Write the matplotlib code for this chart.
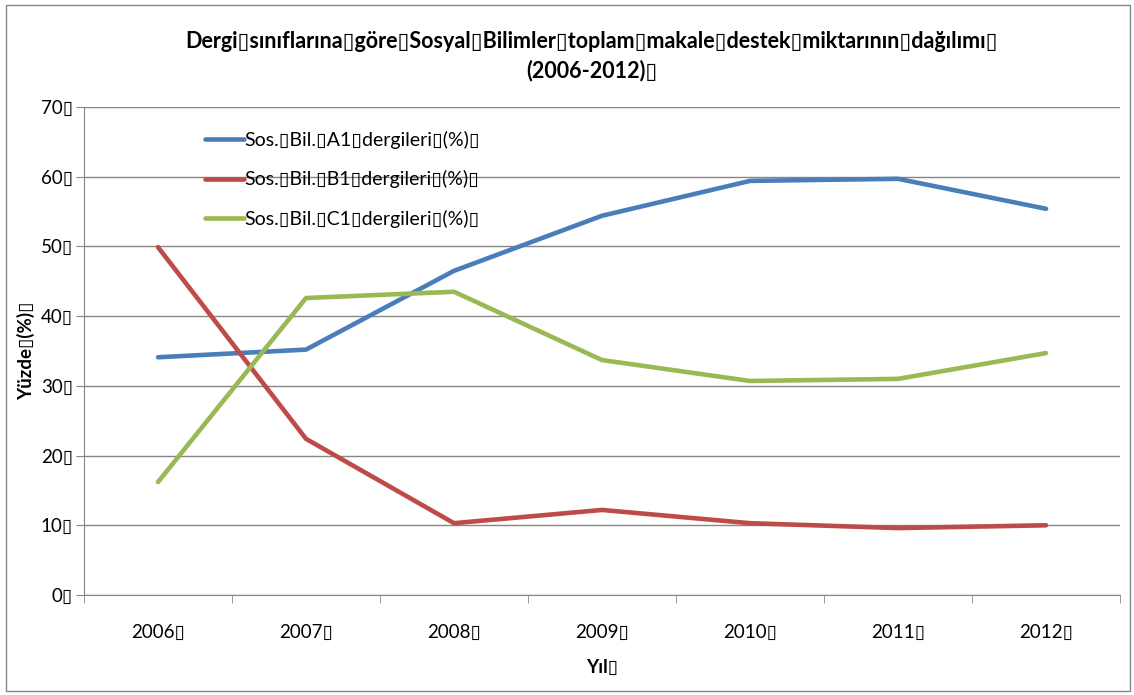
import matplotlib
matplotlib.use("Agg")
import matplotlib.pyplot as plt
from matplotlib.patches import Rectangle

plt.rcParams['font.family'] = ['Lato', 'DejaVu Sans']

B = "\u25af"  # missing-glyph box as shown in the reference

years = ["2006", "2007", "2008", "2009", "2010", "2011", "2012"]
a1 = [34.1, 35.2, 46.5, 54.4, 59.4, 59.7, 55.4]
b1 = [49.9, 22.4, 10.3, 12.2, 10.3, 9.6, 10.0]
c1 = [16.2, 42.6, 43.5, 33.7, 30.7, 31.0, 34.7]
labels = ["Sos." + B + "Bil." + B + "A1" + B + "dergileri" + B + "(%)" + B,
          "Sos." + B + "Bil." + B + "B1" + B + "dergileri" + B + "(%)" + B,
          "Sos." + B + "Bil." + B + "C1" + B + "dergileri" + B + "(%)" + B]
colors = ["#4A7EBB", "#BE4B48", "#98B954"]
yticks = [0, 10, 20, 30, 40, 50, 60, 70]

fig = plt.figure(figsize=(11.34, 6.95), dpi=100)
ax = fig.add_axes([84 / 1134, 1 - 595 / 695, (1120 - 84) / 1134, (595 - 107) / 695])

x = list(range(len(years)))
for vals, lab, col in zip([a1, b1, c1], labels, colors):
    ax.plot(x, vals, color=col, lw=3.3, label=lab, solid_capstyle='round')

ax.set_xlim(-0.5, len(years) - 0.5)
ax.set_ylim(0, 70)
ax.set_yticks(yticks)
ax.set_yticklabels([str(v) + B for v in yticks], fontsize=13.5)
ax.set_xticks(x)
ax.set_xticklabels([y + B for y in years], fontsize=13.5)
ax.set_xticks([i - 0.5 for i in range(len(years) + 1)], minor=True)
ax.tick_params(axis='x', which='major', length=0, pad=21)
ax.tick_params(axis='x', which='minor', length=6, color='#868686', direction='out')
ax.tick_params(axis='y', length=6, color='#868686', direction='out', pad=2)
ax.grid(axis='y', color='#868686', lw=1)
ax.set_axisbelow(True)
for s in ['top', 'right']:
    ax.spines[s].set_visible(False)
for s in ['left', 'bottom']:
    ax.spines[s].set_color('#868686')

ax.set_ylabel("Yüzde" + B + "(%)" + B, fontsize=13.5, fontweight='bold', labelpad=4)
ax.set_xlabel("Yıl" + B, fontsize=13.5, fontweight='bold', labelpad=13)

leg = ax.legend(loc='upper left', bbox_to_anchor=(0.1, 0.987), frameon=False,
                fontsize=14, labelspacing=1.1, handlelength=2.0, handletextpad=0.0)

fig.text(0.522, 0.941, "Dergi" + B + "sınıflarına" + B + "göre" + B + "Sosyal" + B + "Bilimler" + B +
         "toplam" + B + "makale" + B + "destek" + B + "miktarının" + B + "dağılımı" + B,
         ha='center', va='center', fontsize=15.5, fontweight='bold')
fig.text(0.522, 0.899, "(2006-2012)" + B, ha='center', va='center', fontsize=15.5, fontweight='bold')

fig.patches.append(Rectangle((6 / 1134, 4 / 695), 1124 / 1134, 686 / 695, transform=fig.transFigure,
                             fill=False, edgecolor='#868686', lw=1))

fig.savefig("out.png", dpi=100)
